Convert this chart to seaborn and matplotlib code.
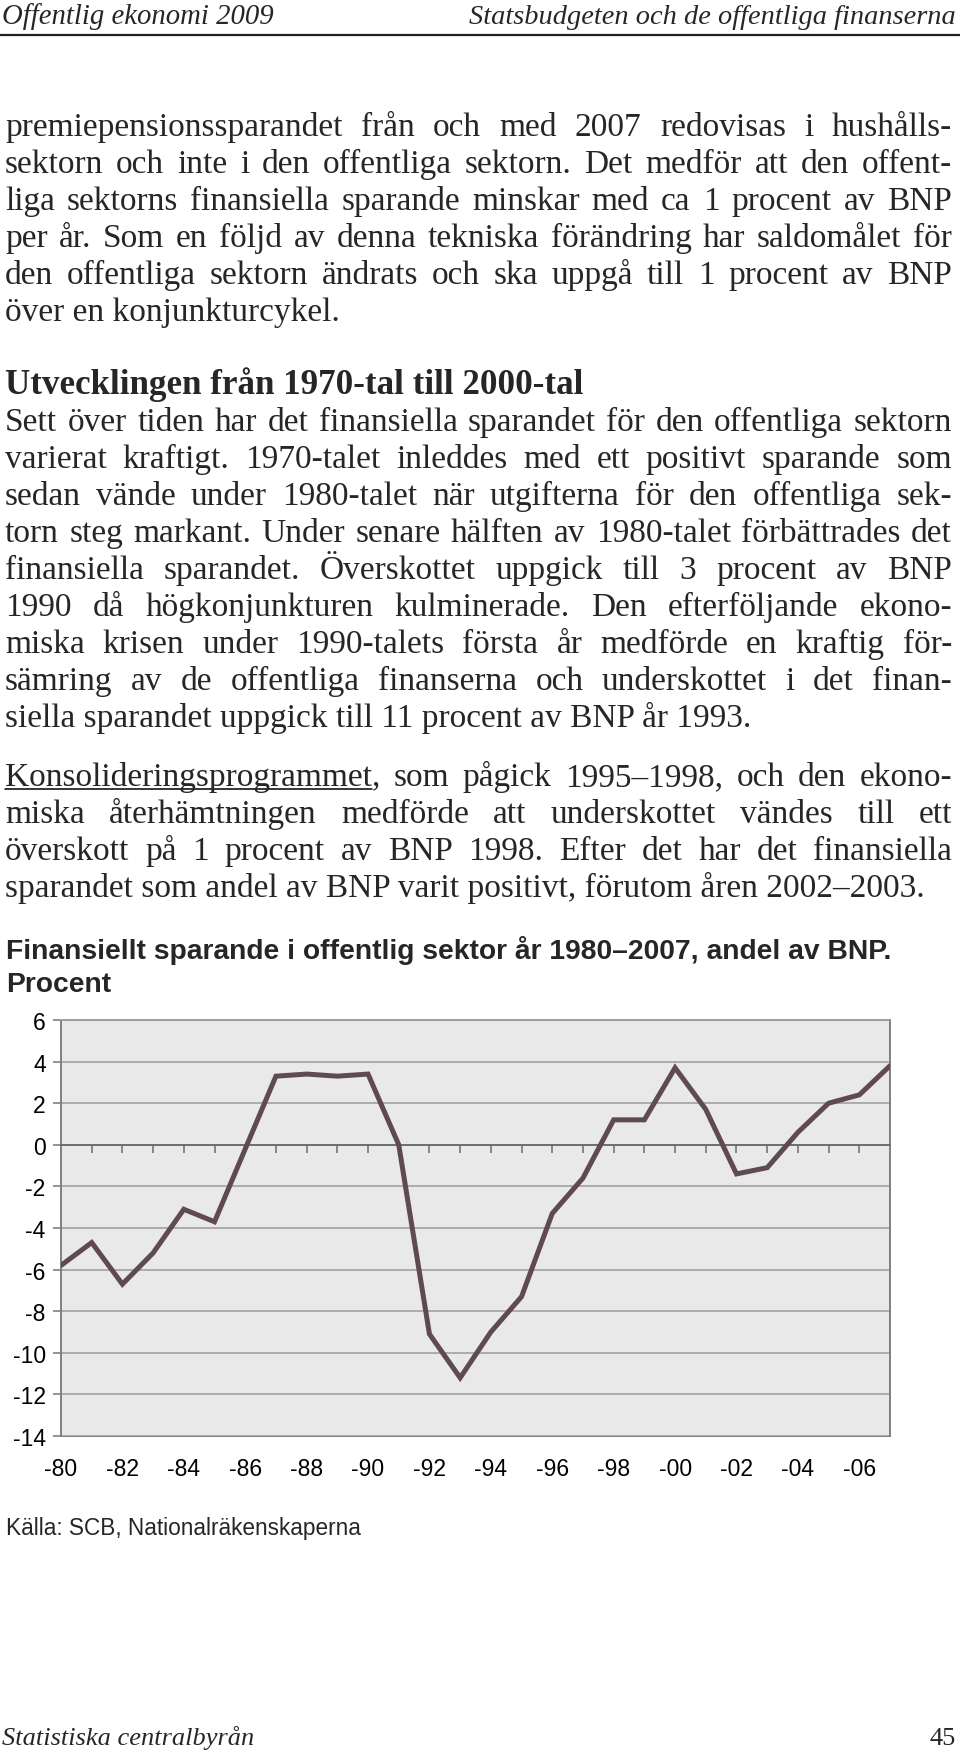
import numpy as np
import pandas as pd
import seaborn as sns
import matplotlib.pyplot as plt
from matplotlib.lines import Line2D

# data
years = list(range(1980, 2008))
saving = [-5.8, -4.7, -6.7, -5.2, -3.1, -3.7, -0.2, 3.3, 3.4, 3.3, 3.4, 0.0,
          -9.1, -11.2, -9.0, -7.3, -3.3, -1.6, 1.2, 1.2, 3.7, 1.7, -1.4, -1.1,
          0.6, 2.0, 2.4, 3.8]
y_ticks = [6, 4, 2, 0, -2, -4, -6, -8, -10, -12, -14]
x_tick_years = [1980, 1982, 1984, 1986, 1988, 1990, 1992, 1994, 1996, 1998,
                2000, 2002, 2004, 2006]
x_tick_labels = ['-80', '-82', '-84', '-86', '-88', '-90', '-92', '-94', '-96',
                 '-98', '-00', '-02', '-04', '-06']

header_left = 'Offentlig ekonomi 2009'
header_right = 'Statsbudgeten och de offentliga finanserna'
para1 = ['premiepensionssparandet från och med 2007 redovisas i hushålls-',
         'sektorn och inte i den offentliga sektorn. Det medför att den offent-',
         'liga sektorns finansiella sparande minskar med ca 1 procent av BNP',
         'per år. Som en följd av denna tekniska förändring har saldomålet för',
         'den offentliga sektorn ändrats och ska uppgå till 1 procent av BNP',
         'över en konjunkturcykel.']
heading = 'Utvecklingen från 1970-tal till 2000-tal'
para2 = ['Sett över tiden har det finansiella sparandet för den offentliga sektorn',
         'varierat kraftigt. 1970-talet inleddes med ett positivt sparande som',
         'sedan vände under 1980-talet när utgifterna för den offentliga sek-',
         'torn steg markant. Under senare hälften av 1980-talet förbättrades det',
         'finansiella sparandet. Överskottet uppgick till 3 procent av BNP',
         '1990 då högkonjunkturen kulminerade. Den efterföljande ekono-',
         'miska krisen under 1990-talets första år medförde en kraftig för-',
         'sämring av de offentliga finanserna och underskottet i det finan-',
         'siella sparandet uppgick till 11 procent av BNP år 1993.']
para3 = ['Konsolideringsprogrammet, som pågick 1995–1998, och den ekono-',
         'miska återhämtningen medförde att underskottet vändes till ett',
         'överskott på 1 procent av BNP 1998. Efter det har det finansiella',
         'sparandet som andel av BNP varit positivt, förutom åren 2002–2003.']
underlined = 'Konsolideringsprogrammet'
chart_title = ['Finansiellt sparande i offentlig sektor år 1980–2007, andel av BNP.',
               'Procent']
source = 'Källa: SCB, Nationalräkenskaperna'
footer_left = 'Statistiska centralbyrån'
footer_right = '45'

sns.set_theme(style='white')
plt.rcParams['font.family'] = ['Liberation Sans', 'DejaVu Sans']

W, H = 960, 1756
fig = plt.figure(figsize=(9.6, 17.56), dpi=100)
fig.patch.set_facecolor('white')
renderer = fig.canvas.get_renderer()


def fx(x):
    return x / W


def fy(y):
    return 1 - y / H


SERIF = ['Liberation Serif', 'DejaVu Serif']
LEFT, RIGHT = 5, 952
BODY = 24


def put_line(text, y, justify, weight='normal', size=BODY):
    if not justify:
        fig.text(fx(LEFT), fy(y), text, family=SERIF, size=size,
                 weight=weight, va='baseline', ha='left')
        return
    words = text.split(' ')
    arts = [fig.text(0, fy(y), w, family=SERIF, size=size, weight=weight,
                     va='baseline', ha='left') for w in words]
    widths = [a.get_window_extent(renderer).width for a in arts]
    gap = (RIGHT - LEFT - sum(widths)) / (len(words) - 1)
    if gap < 4:
        # too tight, set the line a little smaller
        for a in arts:
            a.remove()
        put_line(text, y, justify, weight, size - 0.5)
        return
    x = LEFT
    for a, w in zip(arts, widths):
        a.set_x(fx(x))
        x += w + gap


# header
fig.text(fx(2), fy(24), header_left, family=SERIF, style='italic', size=20.7,
         va='baseline', ha='left')
fig.text(fx(956), fy(24), header_right, family=SERIF, style='italic', size=20.4,
         va='baseline', ha='right')
fig.add_artist(Line2D([0, 1], [fy(36), fy(36)], transform=fig.transFigure,
                      color='#222222', lw=1.6))

# body text
step = 37
y = 136
for i, line in enumerate(para1):
    put_line(line, y, i < len(para1) - 1)
    y += step
y = 394
put_line(heading, y, False, weight='bold', size=25.2)
y += step
for i, line in enumerate(para2):
    put_line(line, y, i < len(para2) - 1)
    y += step
y = 786
for i, line in enumerate(para3):
    put_line(line, y, i < len(para3) - 1)
    if i == 0:
        tmp = fig.text(0, 0, underlined, family=SERIF, size=BODY)
        uw = tmp.get_window_extent(renderer).width
        tmp.remove()
        fig.add_artist(Line2D([fx(LEFT), fx(LEFT + uw)], [fy(y + 4), fy(y + 4)],
                              transform=fig.transFigure, color='black', lw=1.1))
    y += step

# chart title
fig.text(fx(6), fy(959), chart_title[0], size=20.3, weight='bold', va='baseline')
fig.text(fx(6), fy(992), chart_title[1], size=20.3, weight='bold', va='baseline')

# chart
ax = fig.add_axes([fx(61), fy(1437), fx(890) - fx(61), (1437 - 1021) / H])
ax.set_facecolor('#e9e9e9')
df = pd.DataFrame({'year': years, 'saving': saving})
sns.lineplot(data=df, x='year', y='saving', ax=ax, color='#5f4b4e',
             linewidth=3.6, solid_joinstyle='miter', zorder=3)
ax.set_xlim(1980, 2007)
ax.set_ylim(-14, 6)
ax.set_xlabel('')
ax.set_ylabel('')

ax.set_yticks(y_ticks)
ax.set_yticklabels([str(v) for v in y_ticks])
ax.tick_params(axis='y', left=True, length=6, width=1.2, color='#808080',
               labelsize=16.5, pad=5, labelcolor='black')
ax.yaxis.grid(True, color='#acacac', linewidth=1.4)
ax.xaxis.grid(False)
ax.set_axisbelow(True)

# x axis crosses at zero with a tick for every year
ax.spines['bottom'].set_position(('data', 0))
ax.spines['bottom'].set_color('#6a6a6a')
ax.spines['bottom'].set_linewidth(1.3)
ax.set_xticks(years[1:-1])
ax.tick_params(axis='x', bottom=True, direction='out', length=6, width=1.1,
               color='#6a6a6a', labelbottom=False)
for s in ['left', 'right']:
    ax.spines[s].set_color('#808080')
    ax.spines[s].set_linewidth(1.4)
ax.spines['top'].set_color('#9a9a9a')
ax.spines['top'].set_linewidth(1.3)

sec = ax.secondary_xaxis('bottom')
sec.set_xticks(x_tick_years)
sec.set_xticklabels(x_tick_labels)
sec.tick_params(length=0, pad=15, labelsize=16.5, labelcolor='black')
sec.spines['bottom'].set_color('#808080')
sec.spines['bottom'].set_linewidth(1.4)

fig.text(fx(6), fy(1535), source, size=16.3, va='baseline')

# footer
fig.text(fx(2), fy(1745), footer_left, family=SERIF, style='italic', size=19,
         va='baseline', ha='left')
fig.text(fx(956), fy(1745), footer_right, family=SERIF, size=19,
         va='baseline', ha='right')

fig.savefig('out.png', dpi=100)
